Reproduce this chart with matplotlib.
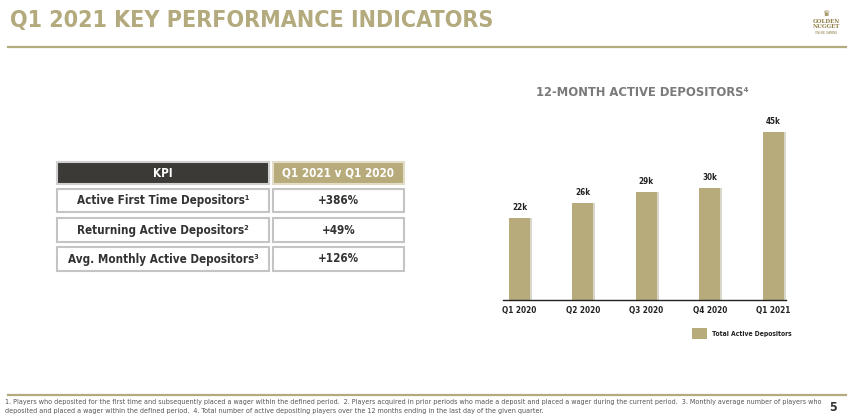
import matplotlib
matplotlib.use("Agg")
import matplotlib.pyplot as plt
from matplotlib.patches import Rectangle
from matplotlib.lines import Line2D
from matplotlib import font_manager as fm

# ---- data ----
quarters = ["Q1 2020", "Q2 2020", "Q3 2020", "Q4 2020", "Q1 2021"]
depositors_k = [22, 26, 29, 30, 45]
value_labels = ["22k", "26k", "29k", "30k", "45k"]
kpi_names = ["Active First Time Depositors¹", "Returning Active Depositors²", "Avg. Monthly Active Depositors³"]
kpi_values = ["+386%", "+49%", "+126%"]
kpi_header = ["KPI", "Q1 2021 v Q1 2020"]
title = "Q1 2021 KEY PERFORMANCE INDICATORS"
chart_title = "12-MONTH ACTIVE DEPOSITORS⁴"
legend_label = "Total Active Depositors"
footnote = ("1. Players who deposited for the first time and subsequently placed a wager within the defined period.  "
            "2. Players acquired in prior periods who made a deposit and placed a wager during the current period.  "
            "3. Monthly average number of players who\n"
            "deposited and placed a wager within the defined period.  "
            "4. Total number of active depositing players over the 12 months ending in the last day of the given quarter.")

W, H = 850, 419
GOLD = "#b8ab7b"
TITLE_GOLD = "#b3aa7e"
DARK = "#3b3a37"
TEXT = "#333333"

bold_path = fm.findfont(fm.FontProperties(family="DejaVu Sans", weight="bold", stretch="condensed"))
reg_path = fm.findfont(fm.FontProperties(family="DejaVu Sans", weight="normal", stretch="condensed"))
COND = "Condensed" in bold_path
SCALE = 1.1 if COND else 1.0


def fb(size):
    if COND:
        return dict(fontproperties=fm.FontProperties(fname=bold_path, size=size * SCALE))
    return dict(fontsize=size, fontweight="bold")


def fr(size):
    if "Condensed" in reg_path:
        return dict(fontproperties=fm.FontProperties(fname=reg_path, size=size * 1.1))
    return dict(fontsize=size)


fig = plt.figure(figsize=(W / 100, H / 100), dpi=100)
fig.patch.set_facecolor("white")


def fx(x):
    return x / W


def fy(y):
    return 1 - y / H


# title and rule lines
fig.text(fx(10), fy(20), title, color=TITLE_GOLD, va="center", ha="left", **fb(15.1))
fig.add_artist(Line2D([fx(8), fx(846)], [fy(47), fy(47)], color=TITLE_GOLD, lw=1.6))
fig.add_artist(Line2D([fx(8), fx(846)], [fy(395), fy(395)], color=TITLE_GOLD, lw=1.6))

# logo (text)
fig.text(fx(826), fy(13), "♛", fontsize=6, color="#8f7f45", ha="center", va="center")
fig.text(fx(826), fy(24), "GOLDEN\nNUGGET", fontsize=4, color="#8f7f45", family="DejaVu Serif",
         ha="center", va="center", linespacing=0.9, fontweight="bold")
fig.text(fx(826), fy(33), "ONLINE GAMING", fontsize=2, color="#8f7f45", ha="center", va="center")


# KPI table
def cell(x0, y0, x1, y1, face, edge, txt, tcolor):
    fig.add_artist(Rectangle((fx(x0), fy(y1)), fx(x1) - fx(x0), fy(y0) - fy(y1),
                             facecolor=face, edgecolor=edge, lw=1.5, transform=fig.transFigure))
    fig.text(fx((x0 + x1) / 2), fy((y0 + y1) / 2), txt, color=tcolor, ha="center", va="center",
             **fb(7.6))


cell(57, 162, 269, 184, DARK, "#cfcfcf", kpi_header[0], "white")
cell(273, 162, 404, 184, GOLD, "#e3dcc6", kpi_header[1], "white")
rows_y = [(189, 212), (218, 242), (247, 271)]
for (y0, y1), name, val in zip(rows_y, kpi_names, kpi_values):
    cell(57, y0, 269, y1, "white", "#c4c4c4", name, TEXT)
    cell(273, y0, 404, y1, "white", "#c4c4c4", val, TEXT)

# bar chart
ax = fig.add_axes([fx(503), fy(300), fx(786) - fx(503), (fy(113) - fy(300))])
x = list(range(len(quarters)))
ax.bar([xi + 0.03 for xi in x], depositors_k, width=0.33, color="#d9d6cc", zorder=1)
ax.bar(x, depositors_k, width=0.33, color=GOLD, zorder=2)
ax.set_xlim(-0.26, 4.2)
ax.set_ylim(0, 50)
for xi, v, lab in zip(x, depositors_k, value_labels):
    ax.annotate(lab, (xi, v), xytext=(0, 4), textcoords="offset points", ha="center", va="bottom",
                color="#222222", **fb(5.2))
ax.set_xticks(x)
ax.set_xticklabels(quarters, color="#222222", **fb(5.3))
ax.tick_params(axis="x", length=0, pad=4)
ax.set_yticks([])
for s in ["top", "right", "left"]:
    ax.spines[s].set_visible(False)
ax.spines["bottom"].set_color("#222222")
ax.spines["bottom"].set_linewidth(1.0)
ax.patch.set_alpha(0)

fig.text(fx(642), fy(92), chart_title, color="#7a7a7a", ha="center", va="center", **fb(8.4))

# legend
fig.add_artist(Rectangle((fx(692), fy(339)), fx(707) - fx(692), fy(328) - fy(339),
                         facecolor=GOLD, edgecolor="none", transform=fig.transFigure))
fig.text(fx(712), fy(334), legend_label, color="#222222", ha="left", va="center", **fb(4.4))

# footnote
fig.text(fx(5), fy(406.5), footnote, color="#555555", ha="left", va="center",
         linespacing=1.55, **fr(4.7))
fig.text(fx(833), fy(407), "5", color="#333333", ha="center", va="center", **fb(8))

fig.savefig("out.png", dpi=100, facecolor="white")
